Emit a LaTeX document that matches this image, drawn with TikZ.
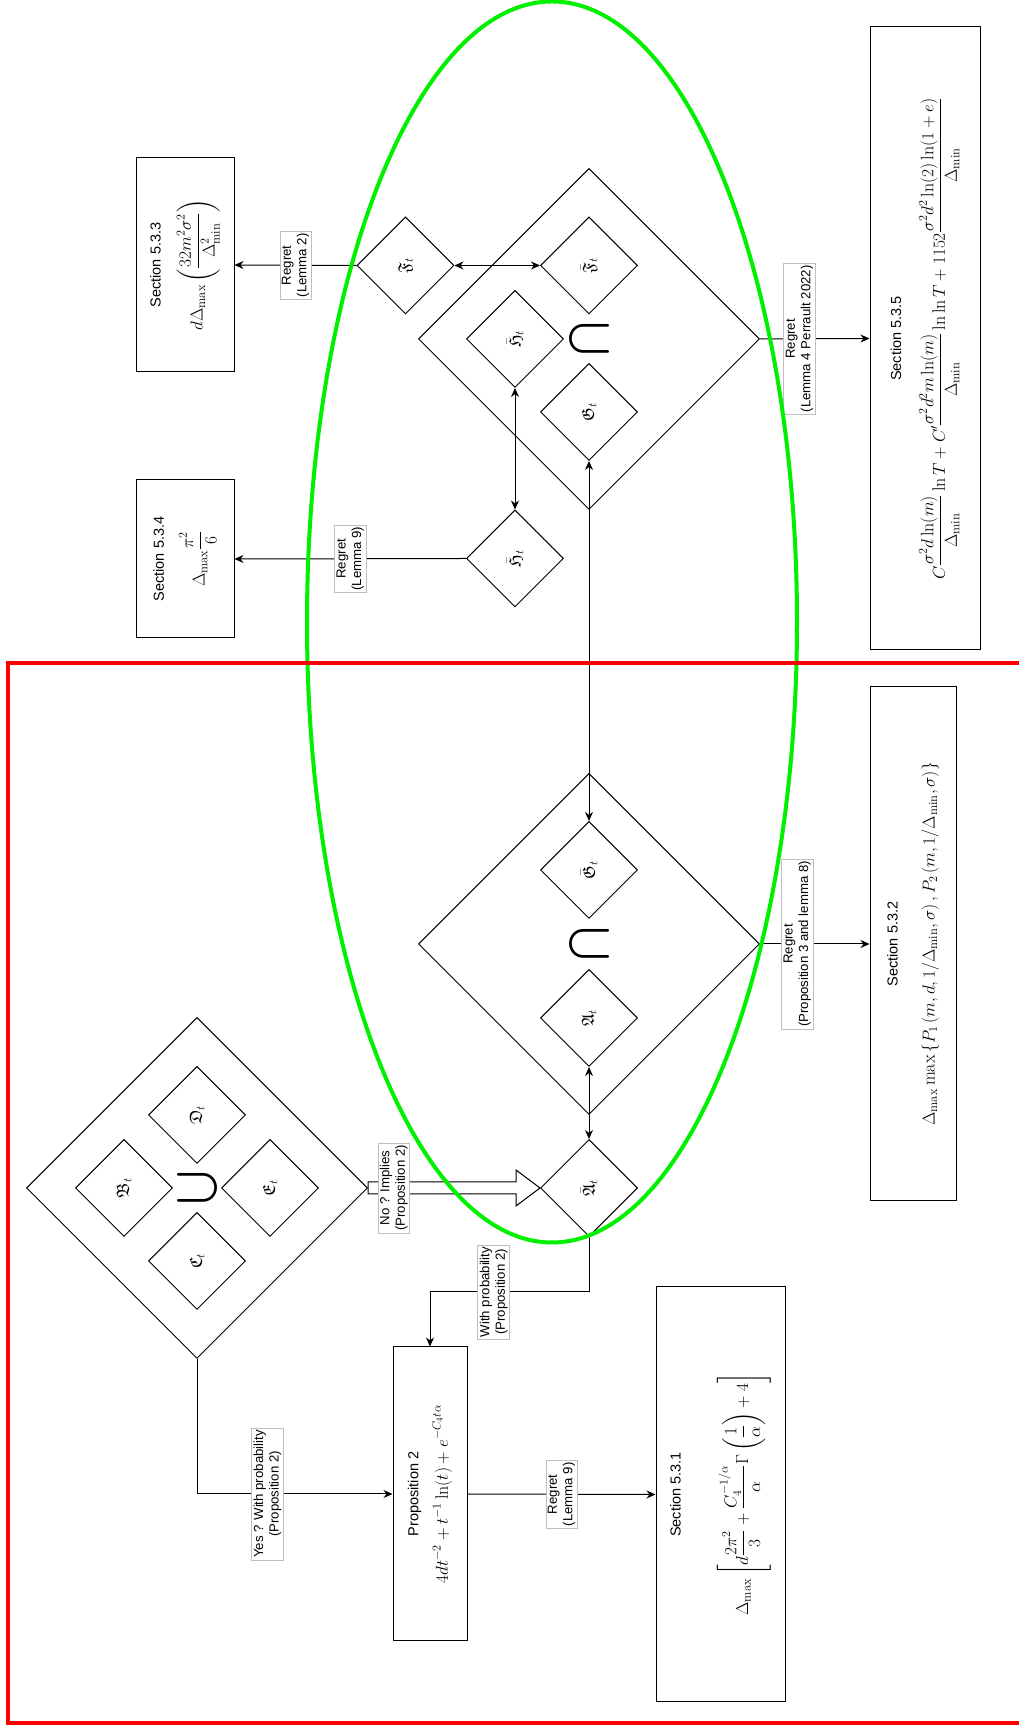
\documentclass[tikz,border=0pt]{standalone}
\usepackage{amsmath}
\usepackage{amssymb}
\usepackage{fontspec}
\newfontfamily\labelfont{Liberation Sans}
\usetikzlibrary{arrows.meta}
\usetikzlibrary{calc}
\usetikzlibrary{shapes.geometric}

\definecolor{framered}{RGB}{255,0,0}
\definecolor{setgreen}{RGB}{0,240,0}

\newcommand{\fml}[1]{{\fontsize{18}{21}\selectfont$\displaystyle #1$}}

\tikzset{
  secbox/.style={draw, line width=1pt, align=center, inner sep=0pt, font=\labelfont\fontsize{14.5}{17}\selectfont},
  sdia/.style={diamond, draw, line width=1pt, minimum width=97pt, minimum height=97pt, inner sep=0pt, font=\fontsize{17.5}{17.5}\selectfont},
  bdia/.style={diamond, draw, line width=1pt, minimum width=341pt, minimum height=341pt, inner sep=0pt},
  setop/.style={inner sep=0pt, font=\fontsize{40}{40}\selectfont},
  lbl/.style={fill=white, draw=black!25, line width=0.6pt, align=center, inner sep=2pt, font=\labelfont\fontsize{13.2}{15.5}\selectfont},
  arr/.style={line width=1pt, -{Stealth[length=9pt, width=8pt]}},
  darr/.style={line width=1pt, {Stealth[length=9pt, width=8pt]}-{Stealth[length=9pt, width=8pt]}},
  hollow/.style={draw, line width=1pt, fill=white},
}

\begin{document}
\begin{tikzpicture}[rotate=90, transform shape, x=1pt, y=1pt]
    \useasboundingbox (0,0) rectangle (1725,-1018);

    % left set: union of four events
    \node[bdia] (bigL) at (537,-197) {};
    \foreach \n/\u/\v in {B/537/-124, D/610/-197, C/464/-197, E/537/-270} {
      \node[sdia] (\n) at (\u,\v) {$\mathfrak{\n}_t$};
    }
    \node[setop] (cupL) at (537,-197) {$\bigcup$};

    % middle set
    \node[bdia] (bigM) at (781,-589) {};
    \node[sdia] (A) at (707,-589) {$\mathfrak{A}_t$};
    \node[sdia] (Gbar) at (855,-589) {$\bar{\mathfrak{G}}_t$};
    \node[setop] (capM) at (781,-589) {$\bigcap$};
    \node[sdia] (Abar) at (537,-589) {$\bar{\mathfrak{A}}_t$};

    % right set
    \node[bdia] (bigT) at (1386,-589) {};
    \node[sdia] (G) at (1313,-589) {$\mathfrak{G}_t$};
    \node[sdia] (Hin) at (1386,-515) {$\bar{\mathfrak{H}}_t$};
    \node[sdia] (Fbar) at (1459.5,-589) {$\bar{\mathfrak{F}}_t$};
    \node[setop] (capT) at (1386,-589) {$\bigcap$};
    \node[sdia] (F) at (1459.5,-405.5) {$\mathfrak{F}_t$};
    \node[sdia] (Hout) at (1166.5,-515) {$\bar{\mathfrak{H}}_t$};

    % results
    \node[secbox, minimum width=214pt, minimum height=98pt] (sec533) at (1460,-185)
      {Section 5.3.3\\[15pt] \fml{d\Delta_{\max}\left(\frac{32m^2\sigma^2}{\Delta_{\min}^2}\right)}};
    \node[secbox, minimum width=158pt, minimum height=98pt] (sec534) at (1166,-185)
      {Section 5.3.4\\[14pt] \fml{\Delta_{\max}\frac{\pi^2}{6}}};
    \node[secbox, minimum width=623pt, minimum height=110pt] (sec535) at (1386.5,-925)
      {Section 5.3.5\\[17pt] \fml{C\frac{\sigma^2d\ln(m)}{\Delta_{\min}}\ln T+C'\frac{\sigma^2d^2m\ln(m)}{\Delta_{\min}}\ln\ln T+1152\frac{\sigma^2d^2\ln(2)\ln(1+e)}{\Delta_{\min}}}};
    \node[secbox, minimum width=514pt, minimum height=86pt] (sec532) at (781,-913)
      {Section 5.3.2\\[20pt] \fml{\Delta_{\max}\max\left\{P_1\left(m,d,1/\Delta_{\min},\sigma\right),P_2\left(m,1/\Delta_{\min},\sigma\right)\right\}}};
    \node[secbox, minimum width=415pt, minimum height=129pt] (sec531) at (230.5,-720.5)
      {Section 5.3.1\\[35pt] \fml{\Delta_{\max}\left[d\frac{2\pi^2}{3}+\frac{C_4^{-1/\alpha}}{\alpha}\Gamma\left(\frac{1}{\alpha}\right)+4\right]}};
    \node[secbox, minimum width=294pt, minimum height=74pt] (prop2) at (231,-430)
      {Proposition 2\\[10pt] \fml{4dt^{-2}+t^{-1}\ln(t)+e^{-C_4t\alpha}}};

    % links between events
    \draw[darr] (F.south) -- (Fbar.north);
    \draw[darr] (Hin.west) -- (Hout.east);
    \draw[darr] (Gbar.east) -- (G.west);
    \draw[darr] (Abar.east) -- (A.west);

    % regret arrows
    \draw[arr] (F.north) -- node[lbl] {Regret\\(Lemma 2)} (sec533.south);
    \draw[arr] (Hout.north) -- node[lbl] {Regret\\(Lemma 9)} (sec534.south);
    \draw[arr] (bigT.south) -- node[lbl, pos=0.36] {Regret\\(Lemma 4 Perrault 2022)} (sec535.north);
    \draw[arr] (bigM.south) -- node[lbl, pos=0.34] {Regret\\(Proposition 3 and lemma 8)} (sec532.north);
    \draw[arr] (prop2.south) -- node[lbl] {Regret\\(Lemma 9)} (sec531.north);

    % probability arrows
    \draw[arr] (bigL.west) -| node[lbl, pos=0.68] {Yes ? With probability\\(Proposition 2)} (prop2.north);
    \draw[arr] (Abar.west) -- ++(-55,0) |- node[lbl, pos=0.3] {With probability\\(Proposition 2)} (prop2.east);

    % implication
    \draw[hollow] ($(bigL.south)+(6,0)$) -- ($(Abar.north)+(6,24)$) -- ($(Abar.north)+(18,24)$)
      -- (Abar.north) -- ($(Abar.north)+(-18,24)$) -- ($(Abar.north)+(-6,24)$)
      -- ($(bigL.south)+(-6,0)$) -- cycle;
    \path (bigL.south) -- node[lbl, pos=0.15] {No ? Implies\\(Proposition 2)} (Abar.north);

    % groups
    \draw[setgreen, line width=4pt] (1103,-552) ellipse [x radius=620.5, y radius=245];
    \draw[framered, line width=4pt] (1062,-1030) -- (1062,-7.5) -- (2,-7.5) -- (2,-1030);
\end{tikzpicture}
\end{document}
